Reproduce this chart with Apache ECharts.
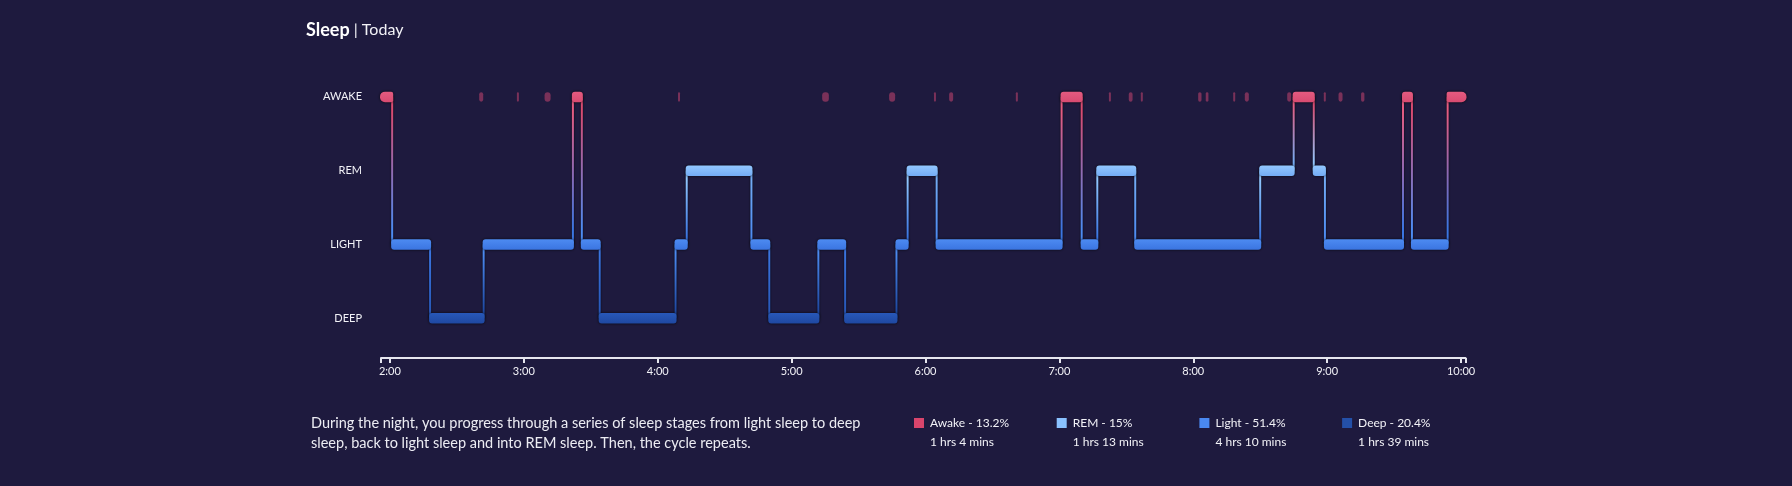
<!DOCTYPE html>
<html>
<head>
<meta charset="utf-8">
<title>Sleep | Today</title>
<script src="https://cdn.jsdelivr.net/npm/echarts@6.0.0/dist/echarts.min.js"></script>
<style>
    html, body { margin: 0; padding: 0; background: #1e1a3e; }
    #sleepChart { width: 1792px; height: 486px; }
</style>
</head>
<body>
<div id="sleepChart"></div>
<script>
    // stages, bottom to top
    var stageNames = ['DEEP', 'LIGHT', 'REM', 'AWAKE'];
    // minutes after 2:00 at which each stage starts
    var stageStarts = [-4, 1, 18, 42, 82, 86, 94, 128, 133, 162, 170, 192, 204, 227, 232, 245,
        301, 310, 317, 334, 390, 405, 414, 419, 454, 458, 474];
    var stageLevels = ['AWAKE', 'LIGHT', 'DEEP', 'LIGHT', 'AWAKE', 'LIGHT', 'DEEP', 'LIGHT', 'REM',
        'LIGHT', 'DEEP', 'LIGHT', 'DEEP', 'LIGHT', 'REM', 'LIGHT', 'AWAKE', 'LIGHT', 'REM', 'LIGHT',
        'REM', 'AWAKE', 'REM', 'LIGHT', 'AWAKE', 'LIGHT', 'AWAKE'];
    var sleepEnd = 482;
    // short wakings (start minute, length in minutes)
    var briefWakeStarts = [40.0, 56.9, 69.3, 129.1, 193.7, 223.7, 243.8, 250.6, 280.5, 322.2,
        331.1, 336.5, 362.2, 365.6, 377.9, 383.1, 402.1, 418.5, 425.1, 435.2];
    var briefWakeMins = [1.8, 0.9, 2.7, 0.9, 3.0, 2.7, 0.9, 1.8, 0.9, 0.9,
        1.7, 0.9, 1.5, 1.2, 0.9, 1.8, 1.8, 0.9, 1.8, 1.5];
    var tickMinutes = [0, 60, 120, 180, 240, 300, 360, 420, 480];
    var tickLabels = ['2:00', '3:00', '4:00', '5:00', '6:00', '7:00', '8:00', '9:00', '10:00'];

    var legendNames = ['Awake', 'REM', 'Light', 'Deep'];
    var legendPercents = ['13.2%', '15%', '51.4%', '20.4%'];
    var legendDurations = ['1 hrs 4 mins', '1 hrs 13 mins', '4 hrs 10 mins', '1 hrs 39 mins'];
    var noteLines = [
        'During the night, you progress through a series of sleep stages from light sleep to deep',
        'sleep, back to light sleep and into REM sleep. Then, the cycle repeats.'
    ];

    // colours per stage: [top, bottom]
    var stageColors = {
        AWAKE: ['#e45b80', '#d84b71'],
        REM: ['#93c8ff', '#74acf5'],
        LIGHT: ['#4d8bf2', '#3b75e1'],
        DEEP: ['#2858b9', '#1f48a1']
    };
    var legendColors = ['#d9456c', '#8ac2ff', '#4a88f0', '#2450a8'];
    var bandHeight = 10.5;

    var segmentData = stageStarts.map(function (s, i) {
        var e = i < stageStarts.length - 1 ? stageStarts[i + 1] : sleepEnd;
        return [s, e, stageNames.indexOf(stageLevels[i]), i];
    });
    var connectorData = [];
    for (var i = 1; i < stageStarts.length; i++) {
        connectorData.push([stageStarts[i], stageNames.indexOf(stageLevels[i - 1]), stageNames.indexOf(stageLevels[i])]);
    }
    var briefWakeData = briefWakeStarts.map(function (s, i) {
        return [s, s + briefWakeMins[i], 3];
    });

    function colorOf(idx) {
        return stageColors[stageNames[idx]];
    }

    function renderBand(params, api) {
        var p0 = api.coord([api.value(0), api.value(2)]);
        var p1 = api.coord([api.value(1), api.value(2)]);
        var c = colorOf(api.value(2));
        var idx = api.value(3);
        var r = 3;
        if (idx === 0) r = [5, 2, 2, 5];
        if (idx === stageStarts.length - 1) r = [2, 5, 5, 2];
        return {
            type: 'rect',
            shape: { x: p0[0] - 1, y: p0[1] - bandHeight / 2, width: p1[0] - p0[0] + 2, height: bandHeight, r: r },
            style: {
                fill: new echarts.graphic.LinearGradient(0, 0, 0, 1, [
                    { offset: 0, color: c[0] }, { offset: 1, color: c[1] }
                ]),
                shadowBlur: 3,
                shadowColor: 'rgba(0,0,0,0.8)'
            }
        };
    }

    function renderConnector(params, api) {
        var a = api.coord([api.value(0), api.value(1)]);
        var b = api.coord([api.value(0), api.value(2)]);
        var ca = colorOf(api.value(1))[1];
        var cb = colorOf(api.value(2))[0];
        var topColor = a[1] < b[1] ? ca : cb;
        var bottomColor = a[1] < b[1] ? cb : ca;
        var top = Math.min(a[1], b[1]);
        return {
            type: 'rect',
            shape: { x: a[0] - 1, y: top, width: 2, height: Math.abs(a[1] - b[1]) },
            style: {
                fill: new echarts.graphic.LinearGradient(0, 0, 0, 1, [
                    { offset: 0.1, color: topColor }, { offset: 0.9, color: bottomColor }
                ]),
                shadowBlur: 2,
                shadowColor: 'rgba(0,0,0,0.9)'
            }
        };
    }

    function renderBriefWake(params, api) {
        var p0 = api.coord([api.value(0), api.value(2)]);
        var p1 = api.coord([api.value(1), api.value(2)]);
        var w = Math.max(2, p1[0] - p0[0]);
        return {
            type: 'rect',
            shape: { x: p0[0], y: p0[1] - 4.75, width: w, height: 9.5, r: Math.min(w / 2, 3) },
            style: { fill: '#7a3159' }
        };
    }

    var graphics = [{
        type: 'text',
        x: 311,
        y: 413,
        style: {
            text: noteLines.join('\n'),
            font: '14.5px Lato',
            lineHeight: 20,
            fill: '#ececf3'
        }
    }];
    legendNames.forEach(function (name, i) {
        var x0 = 914 + i * 142.7;
        graphics.push({ type: 'rect', shape: { x: x0, y: 418, width: 10, height: 10 }, style: { fill: legendColors[i] } });
        graphics.push({
            type: 'text', x: x0 + 16, y: 423,
            style: { text: name + ' - ' + legendPercents[i], font: '12px Lato', fill: '#f2f2f7', verticalAlign: 'middle' }
        });
        graphics.push({
            type: 'text', x: x0 + 16, y: 442.5,
            style: { text: legendDurations[i], font: '12px Lato', fill: '#f2f2f7', verticalAlign: 'middle' }
        });
    });

    var chart = echarts.init(document.getElementById('sleepChart'));
    chart.setOption({
        backgroundColor: '#1e1a3e',
        animation: false,
        title: {
            text: '{b|Sleep}{n| | Today}',
            left: 306,
            top: 21,
            padding: 0,
            textStyle: {
                rich: {
                    b: { fontSize: 18, fontWeight: 'bold', color: '#ffffff', fontFamily: 'Lato' },
                    n: { fontSize: 16, fontWeight: 'normal', color: '#f2f2f7', fontFamily: 'Lato' }
                }
            }
        },
        grid: { left: 381, right: 326.5, top: 60, bottom: 131 },
        xAxis: {
            type: 'value',
            min: -4,
            max: 482,
            offset: 3,
            axisLine: { show: true, lineStyle: { color: '#e6e6ee', width: 2 } },
            axisTick: {
                show: true,
                customValues: [-4].concat(tickMinutes).concat([482]),
                length: 5,
                lineStyle: { color: '#e6e6ee', width: 2 }
            },
            axisLabel: {
                customValues: tickMinutes,
                formatter: function (v) { return tickLabels[tickMinutes.indexOf(v)]; },
                color: '#f2f2f7',
                fontSize: 11,
                fontFamily: 'Lato',
                margin: 8
            },
            splitLine: { show: false }
        },
        yAxis: {
            type: 'category',
            data: stageNames,
            axisLine: { show: false },
            axisTick: { show: false },
            axisLabel: { color: '#f2f2f7', fontSize: 11, fontFamily: 'Lato', margin: 19 },
            splitLine: { show: false }
        },
        graphic: graphics,
        series: [{
            type: 'custom',
            name: 'brief',
            renderItem: renderBriefWake,
            encode: { x: [0, 1], y: 2 },
            data: briefWakeData,
            clip: false,
            z: 1
        }, {
            type: 'custom',
            name: 'connectors',
            renderItem: renderConnector,
            encode: { x: 0, y: [1, 2] },
            data: connectorData,
            clip: false,
            z: 2
        }, {
            type: 'custom',
            name: 'stages',
            renderItem: renderBand,
            encode: { x: [0, 1], y: 2 },
            data: segmentData,
            clip: false,
            z: 3
        }]
    });
</script>
</body>
</html>
